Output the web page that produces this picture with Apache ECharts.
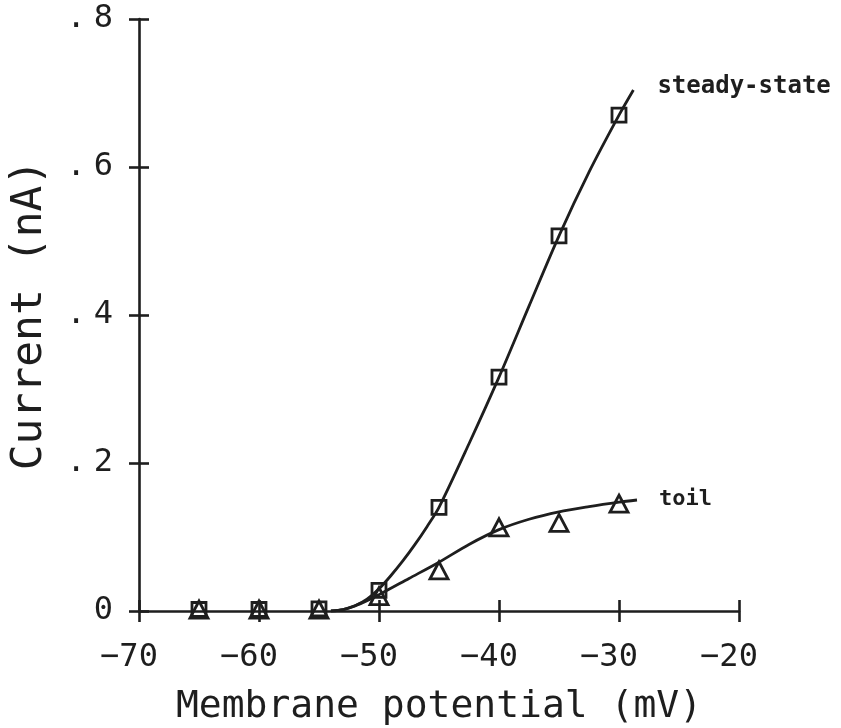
<!DOCTYPE html>
<html>
<head>
<meta charset="utf-8">
<script src="https://cdn.jsdelivr.net/npm/echarts@6/dist/echarts.min.js"></script>
<style>html,body{margin:0;padding:0;background:#fff}#c{width:841px;height:728px}</style>
</head>
<body>
<div id="c"></div>
<script>
// Measured points
const potentials = [-65, -60, -55, -50, -45, -40, -35, -30];
const steadyValues = [0.002, 0.002, 0.003, 0.028, 0.14, 0.316, 0.507, 0.67];
const tailValues = [0.002, 0.002, 0.002, 0.02, 0.055, 0.113, 0.119, 0.145];

// Fitted curves
const steadyCurveX = [-54, -53, -52, -51, -50, -49, -48, -47, -46, -45, -42.5, -40, -37.5, -35, -32.5, -30, -28.8];
const steadyCurveY = [0, 0.002, 0.007, 0.016, 0.03, 0.048, 0.068, 0.09, 0.114, 0.14, 0.226, 0.316, 0.412, 0.507, 0.593, 0.67, 0.704];
const tailCurveX = [-54, -53, -52, -51, -50, -47.5, -45, -42.5, -40, -37.5, -35, -32.5, -30, -28.5];
const tailCurveY = [0, 0.002, 0.007, 0.014, 0.022, 0.044, 0.066, 0.09, 0.11, 0.124, 0.134, 0.141, 0.147, 0.15];

// Tick labels
const xTicks = [-70, -60, -50, -40, -30, -20];
const xTickLabels = ['\u221270', '\u221260', '\u221250', '\u221240', '\u221230', '\u221220'];
const yTicks = [0, 0.2, 0.4, 0.6, 0.8];
const yTickLabels = ['0', '.2', '.4', '.6', '.8'];

const names = { steady: 'steady-state', tail: 'toil' };
const axisTitles = { x: 'Membrane potential (mV)', y: 'Current (nA)' };

const ink = '#1e1e1e';
const FONT = 'DejaVu Sans Mono';
const pair = (xs, ys) => xs.map((x, i) => [x, ys[i]]);

function xLabel(v) { const i = xTicks.indexOf(Math.round(v)); return i >= 0 ? xTickLabels[i] : ''; }
function yLabel(v) {
  const i = yTicks.findIndex(t => Math.abs(t - v) < 1e-6);
  if (i < 0) return '';
  const s = yTickLabels[i];
  return s.charAt(0) === '.' ? '{d|.}{n|' + s.slice(1) + '}' : '{n|' + s + '}';
}

const baseX = { type: 'value', min: -70, max: -20, interval: 10, splitLine: { show: false } };
const baseY = { type: 'value', min: 0, max: 0.8, interval: 0.2, splitLine: { show: false } };
const tickFont = { color: ink, fontFamily: FONT, fontSize: 32 };

const chart = echarts.init(document.getElementById('c'), null, { renderer: 'canvas' });
chart.setOption({
  backgroundColor: '#fff',
  animation: false,
  grid: { left: 139, right: 102, top: 19, bottom: 117, containLabel: false, outerBoundsMode: 'none' },
  xAxis: [
    Object.assign({}, baseX, {
      position: 'bottom',
      axisLine: { show: true, onZero: false, lineStyle: { color: ink, width: 2.6 } },
      axisTick: { show: true, inside: false, length: 11, lineStyle: { color: ink, width: 2.6 } },
      axisLabel: Object.assign({ show: true, margin: 31, padding: [0, 20, 0, 0], formatter: xLabel }, tickFont),
      name: axisTitles.x, nameLocation: 'middle', nameGap: 77, nameMoveOverlap: false,
      nameTextStyle: { color: ink, fontFamily: FONT, fontSize: 38 }
    }),
    Object.assign({}, baseX, {
      position: 'bottom',
      axisLine: { show: false, onZero: false },
      axisTick: { show: true, inside: true, length: 11, lineStyle: { color: ink, width: 2.6 } },
      axisLabel: { show: false }
    })
  ],
  yAxis: [
    Object.assign({}, baseY, {
      position: 'left',
      axisLine: { show: true, onZero: false, lineStyle: { color: ink, width: 2.6 } },
      axisTick: { show: true, inside: false, length: 10, lineStyle: { color: ink, width: 2.6 } },
      axisLabel: Object.assign({ show: true, margin: 26, formatter: yLabel,
        rich: {
          d: Object.assign({ padding: [0, 8, 0, 0] }, tickFont),
          n: Object.assign({}, tickFont)
        } }, tickFont),
      name: axisTitles.y, nameLocation: 'middle', nameGap: 88, nameRotate: 90, nameMoveOverlap: false,
      nameTextStyle: { color: ink, fontFamily: FONT, fontSize: 43 }
    }),
    Object.assign({}, baseY, {
      position: 'left',
      axisLine: { show: false, onZero: false },
      axisTick: { show: true, inside: true, length: 10, lineStyle: { color: ink, width: 2.6 } },
      axisLabel: { show: false }
    })
  ],
  series: [
    {
      name: names.steady, type: 'line', smooth: 0.3, showSymbol: false, symbol: 'none',
      data: pair(steadyCurveX, steadyCurveY),
      lineStyle: { color: ink, width: 2.8 },
      endLabel: { show: true, formatter: names.steady, color: ink, fontFamily: FONT, fontSize: 24, fontWeight: 'bold', offset: [16, -3] },
      z: 3
    },
    {
      name: names.tail, type: 'line', smooth: 0.3, showSymbol: false, symbol: 'none',
      data: pair(tailCurveX, tailCurveY),
      lineStyle: { color: ink, width: 2.8 },
      endLabel: { show: true, formatter: names.tail, color: ink, fontFamily: FONT, fontSize: 22, fontWeight: 'bold', offset: [14, -1] },
      z: 3
    },
    {
      name: names.steady + ' data', type: 'scatter', symbol: 'rect', symbolSize: 14,
      data: pair(potentials, steadyValues),
      itemStyle: { color: 'rgba(0,0,0,0)', borderColor: ink, borderWidth: 2.8, opacity: 1 },
      z: 4
    },
    {
      name: names.tail + ' data', type: 'scatter', symbol: 'triangle', symbolSize: [18, 17],
      data: pair(potentials, tailValues),
      itemStyle: { color: 'rgba(0,0,0,0)', borderColor: ink, borderWidth: 2.8, opacity: 1 },
      z: 4
    }
  ]
});
</script>
</body>
</html>
